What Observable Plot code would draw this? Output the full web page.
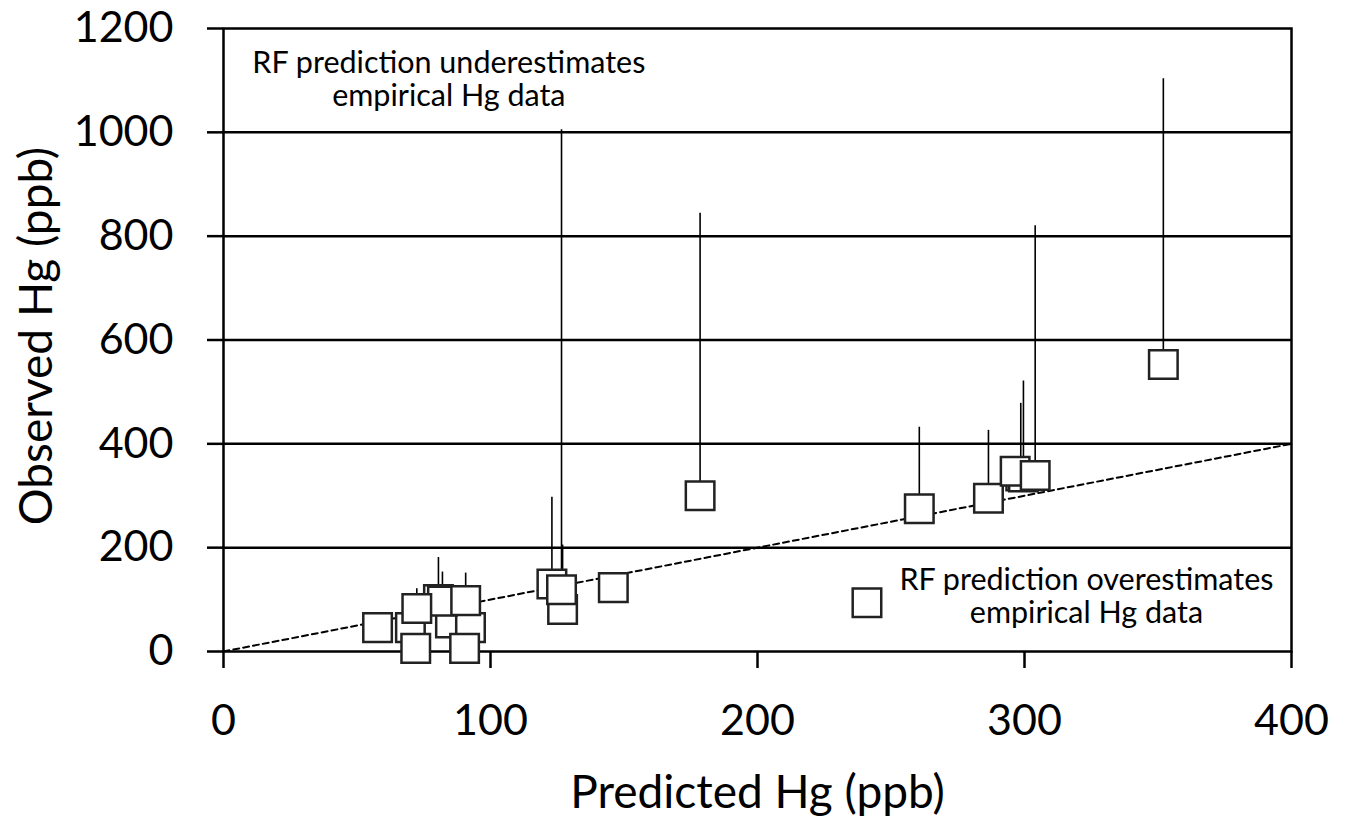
<!DOCTYPE html>
<html>
<head>
<meta charset="utf-8">
<script src="https://cdn.jsdelivr.net/npm/d3@7"></script>
<script src="https://cdn.jsdelivr.net/npm/@observablehq/plot@0.6"></script>
<style>
  html, body { margin: 0; padding: 0; background: white; }
</style>
</head>
<body>
<div id="chart"></div>
<script>
// Data (background points first so overlaps match)
const predicted = [70, 85, 92.5, 80.5, 82, 57.7, 72.4, 90.7, 72, 90.3, 123, 127, 126.6, 146, 178.5, 241, 260.6, 286.5, 298.6, 299.6, 296.5, 304, 352];
const observed  = [46, 55, 46, 100, 97, 46, 83, 98, 6, 6, 130, 81, 119, 123, 300, 94, 275, 295, 338, 336, 347, 339, 553];
const upperObs  = [null, null, null, 181, 153, null, 121, 151, null, null, 297, 205, 1005, null, 844, null, 432, 426, 478, 521, null, 820, 1103];

const xTicks = [0, 100, 200, 300, 400];
const yTicks = [0, 200, 400, 600, 800, 1000, 1200];
const gridY = [200, 400, 600, 800, 1000];
const oneToOne = [0, 400];

const annX = [84.4, 323.2];
const annY = [1050, 54.3];
const annLine1 = ["RF prediction underestimates", "RF prediction overestimates"];
const annLine2 = ["empirical Hg data", "empirical Hg data"];

const xTitle = "Predicted Hg (ppb)";
const yTitle = "Observed Hg (ppb)";

const points = predicted.map((p, i) => ({pred: p, obs: observed[i], upper: upperObs[i]}));
const bars = points.filter(d => d.upper != null);
const ann = annX.map((x, i) => ({x, y: annY[i], t: annLine1[i] + "\n" + annLine2[i]}));

const chart = Plot.plot({
  width: 1345,
  height: 822,
  marginLeft: 223,
  marginRight: 54,
  marginTop: 28,
  marginBottom: 171,
  x: {domain: [0, 400]},
  y: {domain: [0, 1200]},
  style: {fontFamily: "Lato, 'Open Sans', sans-serif", color: "black", background: "white"},
  marks: [
    Plot.ruleY(gridY, {stroke: "black", strokeWidth: 2.5}),
    Plot.frame({stroke: "black", strokeWidth: 2.5}),
    Plot.axisX({ticks: xTicks, tickSize: 17, tickPadding: 36, fontSize: 43, strokeWidth: 2.5, label: null, tickFormat: d => String(d)}),
    Plot.axisY({ticks: yTicks, tickSize: 16, tickPadding: 34, fontSize: 43, strokeWidth: 2.5, label: null, tickFormat: d => String(d)}),
    Plot.line(oneToOne, {x: d => d, y: d => d, stroke: "black", strokeWidth: 2, strokeDasharray: "6,4"}),
    Plot.ruleX(bars, {x: "pred", y1: "obs", y2: "upper", stroke: "black", strokeWidth: 1.6}),
    Plot.dot(points, {x: "pred", y: "obs", symbol: "square", r: 16.1, fill: "white", stroke: "#222", strokeWidth: 2.5}),
    Plot.text(ann, {x: "x", y: "y", text: "t", fontSize: 30.5, lineHeight: 1.1, textAnchor: "middle", lineAnchor: "bottom", fill: "black"}),
    Plot.text([xTitle], {frameAnchor: "bottom", text: d => d, fontSize: 46, textAnchor: "middle", lineAnchor: "bottom", dy: 156, fill: "black"}),
    Plot.text([yTitle], {frameAnchor: "left", text: d => d, fontSize: 46, textAnchor: "middle", lineAnchor: "bottom", rotate: -90, dx: -172, dy: -4, fill: "black"})
  ]
});
document.getElementById("chart").appendChild(chart);
</script>
</body>
</html>
